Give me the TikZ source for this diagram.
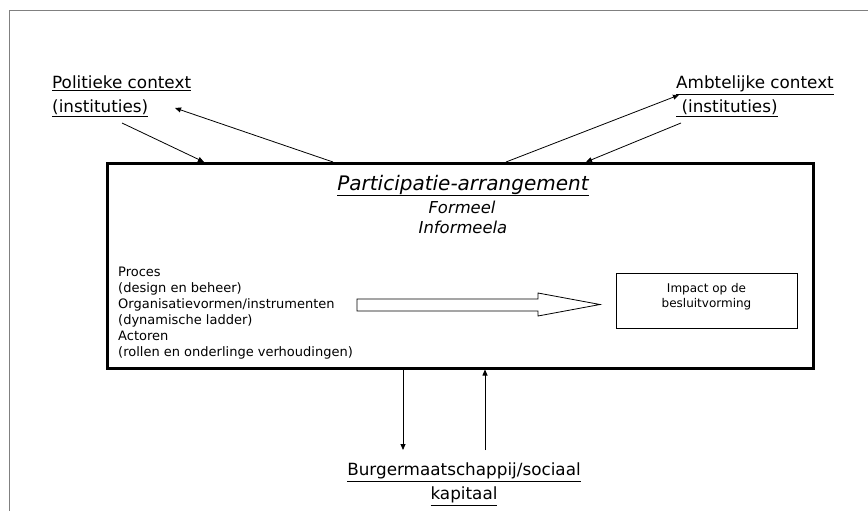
\documentclass[tikz,border=0pt]{standalone}
\usepackage{fontspec}
\setmainfont{DejaVu Sans}
\usetikzlibrary{arrows.meta,positioning}

\tikzset{
  context/.style={inner sep=0pt, align=left, font=\fontsize{16.8}{24}\selectfont},
  flow/.style={line width=0.8pt, -{Triangle[length=6pt,width=5pt]}},
}

\begin{document}
\begin{tikzpicture}[x=1pt, y=-1pt, line join=miter]
\useasboundingbox (0,0) rectangle (868,511);

% Frame
\draw[gray, line width=1pt] (9,511) -- (9,11) -- (868,11);

% Participatie-arrangement
\node[draw, line width=3pt, minimum width=706pt, minimum height=205pt, inner sep=0pt] (arr) at (460,265.5) {};
\node[anchor=base, inner sep=0pt, font=\fontsize{20}{24}\selectfont\itshape] (titel) at (463,190) {\underline{Participatie-arrangement}};
\node[anchor=base, inner sep=0pt, font=\fontsize{16.4}{20}\selectfont\itshape] (formeel) at (462,213) {Formeel};
\node[anchor=base, inner sep=0pt, font=\fontsize{16.4}{20}\selectfont\itshape] (informeel) at (463,233) {Informeela};

\node[anchor=north west, inner sep=0pt, align=left, font=\fontsize{13}{16}\selectfont] (elementen) at (118,266.5)
  {Proces\\(design en beheer)\\Organisatievormen/instrumenten\\(dynamische ladder)\\Actoren\\(rollen en onderlinge verhoudingen)};

% Hollow arrow
\draw[line width=0.8pt] (357,299) -- (538,299) -- (538,293) -- (600,304.5) -- (538,316) -- (538,311) -- (357,311) -- cycle;

% Impact
\node[draw, line width=0.8pt, minimum width=181pt, minimum height=55pt, inner sep=0pt] (impact) at (706.5,300.5) {};
\node[anchor=north, inner sep=0pt, align=center, font=\fontsize{12}{15.5}\selectfont] (impacttekst) at (706.5,283) {Impact op de\\besluitvorming};

% Context labels
\node[context, anchor=north west] (politiek) at (52,76) {\underline{Politieke context}\\\underline{(instituties)}};
\node[context, anchor=north west] (ambtelijk) at (676,76) {\underline{Ambtelijke context}\\\underline{~(instituties)}};
\node[context, align=center, anchor=north] (burger) at (464,463) {\underline{Burgermaatschappij/sociaal}\\\underline{kapitaal}};

% Arrows
\coordinate (pol-uit) at (122,123);
\coordinate (pol-doel) at (204,162);
\coordinate (pol-bron) at (333,162);
\coordinate (pol-in) at (175,108);
\coordinate (amb-bron) at (506,162);
\coordinate (amb-in) at (679,95);
\coordinate (amb-uit) at (681,123);
\coordinate (amb-doel) at (586,162);
\coordinate (burg-in) at (403,450);
\coordinate (burg-uit) at (485,450);

\draw[flow] (pol-uit) -- (pol-doel);
\draw[flow] (pol-bron) -- (pol-in);
\draw[flow] (amb-bron) -- (amb-in);
\draw[flow] (amb-uit) -- (amb-doel);
\draw[flow] (arr.south -| burg-in) -- (burg-in);
\draw[flow] (burg-uit) -- (arr.south -| burg-uit);

\end{tikzpicture}
\end{document}
